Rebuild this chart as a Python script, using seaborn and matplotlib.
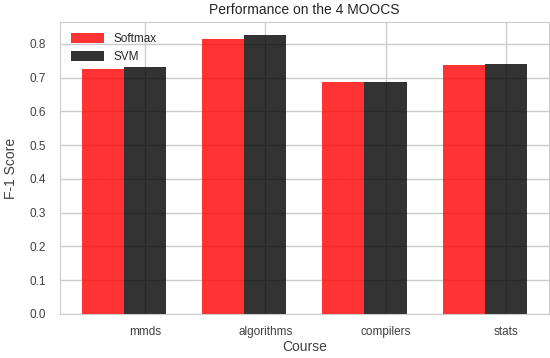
import numpy as np
import pandas as pd
import seaborn as sns
from matplotlib import pyplot as plt

courses = ["mmds", "algorithms", "compilers", "stats"]
models = ["Softmax", "SVM"]
softmax_f1 = [0.725, 0.815, 0.686, 0.737]
svm_f1 = [0.733, 0.827, 0.686, 0.742]


def main():
    sns.set_style("whitegrid")
    plt.rcParams['font.family'] = ['Liberation Sans', 'DejaVu Sans']

    df = pd.DataFrame({
        "Course": courses * 2,
        "Model": [models[0]] * len(courses) + [models[1]] * len(courses),
        "F-1 Score": softmax_f1 + svm_f1,
    })

    fig, ax = plt.subplots(figsize=(5.5, 3.58), dpi=100)
    sns.barplot(data=df, x="Course", y="F-1 Score", hue="Model",
                palette=["red", "black"], alpha=0.8, width=0.7, gap=0,
                saturation=1, errorbar=None, linewidth=0, ax=ax)

    # ticks sit at the centre of the black bar, as in the original
    ax.set_xticks(np.arange(len(courses)) + 0.175)
    ax.set_xticklabels(courses)
    ax.set_xlim(-0.535, 3.535)
    ax.set_ylim(0, 0.865)
    ax.set_yticks(np.arange(0, 0.81, 0.1))
    ax.tick_params(labelsize=8.5, colors=".25", length=0)
    ax.tick_params(axis="x", pad=9)
    ax.tick_params(axis="y", pad=10)
    ax.set_xlabel("Course", fontsize=10, color=".25", labelpad=1)
    ax.set_ylabel("F-1 Score", fontsize=10, color=".25", labelpad=8)
    ax.set_title("Performance on the 4 MOOCS", fontsize=10, color=".15")
    ax.grid(True, color=".8", lw=1)
    ax.set_axisbelow(True)
    for s in ax.spines.values():
        s.set_color(".8")
    ax.legend(loc="upper left", frameon=False, fontsize=8.5, title=None,
              handlelength=2.8, handleheight=1.0)

    plt.subplots_adjust(left=0.109, right=0.998, top=0.9385, bottom=0.123)
    plt.savefig("out.png", dpi=100)


if __name__ == '__main__':
    main()
